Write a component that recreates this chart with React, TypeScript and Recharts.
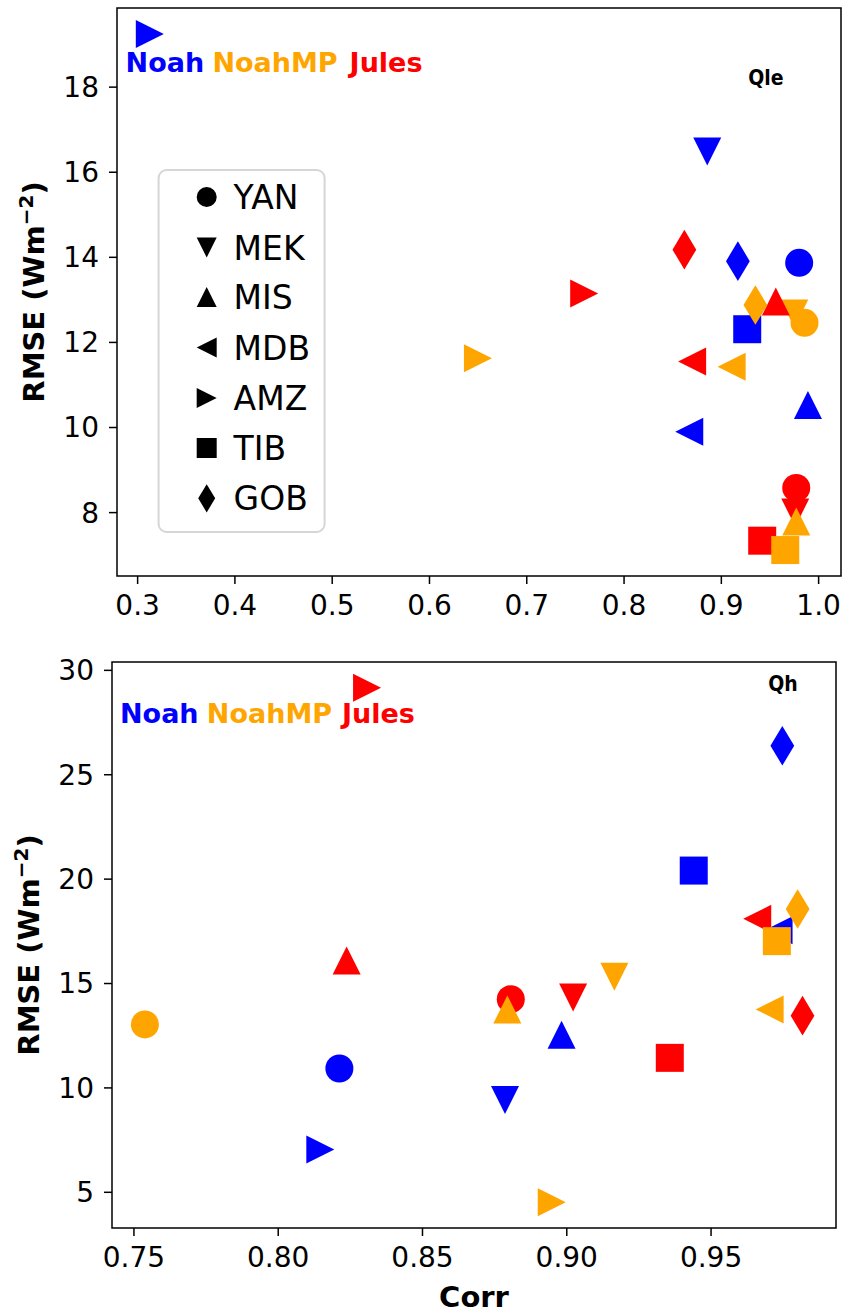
import React from 'react';
import { ScatterChart, Scatter, XAxis, YAxis, ReferenceArea } from 'recharts';

// ---------- data ----------
const stations = ['YAN', 'MEK', 'MIS', 'MDB', 'AMZ', 'TIB', 'GOB'];
const models = ['Noah', 'NoahMP', 'Jules'];
const modelColors = ['#0000ff', '#ffa500', '#ff0000'];
const drawOrder = ['Noah', 'Jules', 'NoahMP'];

// Qle panel
const qleNoahCorr = [0.980, 0.8855, 0.989, 0.867, 0.3125, 0.9266, 0.917];
const qleNoahRmse = [13.87, 16.49, 10.53, 9.90, 19.25, 12.31, 13.91];
const qleNoahMPCorr = [0.9855, 0.975, 0.977, 0.9106, 0.6498, 0.9657, 0.935];
const qleNoahMPRmse = [12.46, 12.68, 7.79, 11.43, 11.63, 7.12, 12.88];
const qleJulesCorr = [0.977, 0.976, 0.956, 0.870, 0.759, 0.942, 0.862];
const qleJulesRmse = [8.58, 8.0, 12.96, 11.55, 13.15, 7.34, 14.18];

// Qh panel
const qhNoahCorr = [0.8212, 0.8786, 0.8982, 0.9734, 0.8146, 0.944, 0.9747];
const qhNoahRmse = [10.93, 9.42, 12.55, 17.55, 7.05, 20.41, 26.39];
const qhNoahMPCorr = [0.7538, 0.9165, 0.8794, 0.9703, 0.8948, 0.9728, 0.980];
const qhNoahMPRmse = [13.04, 15.33, 13.76, 13.76, 4.52, 17.03, 18.57];
const qhJulesCorr = [0.8806, 0.9022, 0.8237, 0.966, 0.8308, 0.9357, 0.9817];
const qhJulesRmse = [14.25, 14.33, 16.10, 18.10, 29.17, 11.44, 13.46];

// axes
const qleXDomain = [0.2788, 1.023];
const qleYDomain = [6.51, 19.86];
const qleXTicks = [0.3, 0.4, 0.5, 0.6, 0.7, 0.8, 0.9, 1.0];
const qleYTicks = [8, 10, 12, 14, 16, 18];
const qhXDomain = [0.7424, 0.9933];
const qhYDomain = [3.29, 30.40];
const qhXTicks = [0.75, 0.8, 0.85, 0.9, 0.95];
const qhYTicks = [5, 10, 15, 20, 25, 30];

// ---------- helpers ----------
type Pt = { station: string; model: string; corr: number; rmse: number };

function build(corr: Record<string, number[]>, rmse: Record<string, number[]>): Pt[] {
  const out: Pt[] = [];
  stations.forEach((s, i) => {
    drawOrder.forEach((m) => {
      out.push({ station: s, model: m, corr: corr[m][i], rmse: rmse[m][i] });
    });
  });
  return out;
}

const qleData = build(
  { Noah: qleNoahCorr, NoahMP: qleNoahMPCorr, Jules: qleJulesCorr },
  { Noah: qleNoahRmse, NoahMP: qleNoahMPRmse, Jules: qleJulesRmse }
);
const qhData = build(
  { Noah: qhNoahCorr, NoahMP: qhNoahMPCorr, Jules: qhJulesCorr },
  { Noah: qhNoahRmse, NoahMP: qhNoahMPRmse, Jules: qhJulesRmse }
);

const colorOf = (m: string) => modelColors[models.indexOf(m)];

function markerPath(station: string, m: number): string {
  const h = m / 2;
  switch (station) {
    case 'MEK':
      return `M0,${h} L${-h},${-h} L${h},${-h} Z`;
    case 'MIS':
      return `M0,${-h} L${-h},${h} L${h},${h} Z`;
    case 'MDB':
      return `M${-h},0 L${h},${-h} L${h},${h} Z`;
    case 'AMZ':
      return `M${h},0 L${-h},${-h} L${-h},${h} Z`;
    case 'TIB':
      return `M${-h},${-h} H${h} V${h} H${-h} Z`;
    case 'GOB': {
      const dy = m * 0.7071;
      const dx = m * 0.4243;
      return `M0,${-dy} L${dx},0 L0,${dy} L${-dx},0 Z`;
    }
    default:
      return '';
  }
}

function Marker({ station, cx, cy, size, color }: { station: string; cx: number; cy: number; size: number; color: string }) {
  if (station === 'YAN') {
    return <circle cx={cx} cy={cy} r={size / 2} fill={color} />;
  }
  return <path d={markerPath(station, size)} transform={`translate(${cx},${cy})`} fill={color} />;
}

const renderShape = (props: any) => {
  const p = props.payload ?? props;
  if (props.cx == null || props.cy == null) return <g />;
  return <Marker station={p.station} cx={props.cx} cy={props.cy} size={28} color={colorOf(p.model)} />;
};

const FONT = 'DejaVu Sans';
const tickStyle = { fontSize: 28, fill: '#000', fontFamily: FONT };
const tickLine = { stroke: '#000', strokeWidth: 1.5 };

function Panel({
  data, xDomain, yDomain, xTicks, yTicks, xDigits, width, height, margin, yAxisWidth, xAxisHeight,
}: any) {
  return (
    <ScatterChart width={width} height={height} margin={margin}>
      <XAxis
        type="number"
        dataKey="corr"
        domain={xDomain}
        ticks={xTicks}
        interval={0}
        allowDataOverflow
        height={xAxisHeight}
        axisLine={false}
        tickLine={tickLine}
        tickSize={8}
        tickMargin={11}
        tick={tickStyle}
        tickFormatter={(v: number) => v.toFixed(xDigits)}
      />
      <YAxis
        type="number"
        dataKey="rmse"
        domain={yDomain}
        ticks={yTicks}
        interval={0}
        allowDataOverflow
        width={yAxisWidth}
        axisLine={false}
        tickLine={tickLine}
        tickSize={8}
        tickMargin={10}
        tick={tickStyle}
      />
      <ReferenceArea
        x1={xDomain[0]}
        x2={xDomain[1]}
        y1={yDomain[0]}
        y2={yDomain[1]}
        fill="none"
        fillOpacity={0}
        stroke="#000"
        strokeWidth={1.5}
        ifOverflow="visible"
      />
      <Scatter data={data} shape={renderShape} isAnimationActive={false} />
    </ScatterChart>
  );
}

const legendRowY = [197, 247.5, 297, 347.5, 398, 448, 498.3];

export default function App() {
  return (
    <div style={{ position: 'absolute', left: 0, top: 0, width: 846, height: 1316, background: '#fff', fontFamily: FONT }}>
      <div style={{ position: 'absolute', left: 0, top: 0 }}>
        <Panel
          data={qleData}
          xDomain={qleXDomain}
          yDomain={qleYDomain}
          xTicks={qleXTicks}
          yTicks={qleYTicks}
          xDigits={1}
          width={846}
          height={640}
          margin={{ top: 8, right: 5, bottom: 0, left: 0 }}
          yAxisWidth={117}
          xAxisHeight={64}
        />
      </div>
      <div style={{ position: 'absolute', left: 0, top: 640 }}>
        <Panel
          data={qhData}
          xDomain={qhXDomain}
          yDomain={qhYDomain}
          xTicks={qhXTicks}
          yTicks={qhYTicks}
          xDigits={2}
          width={846}
          height={676}
          margin={{ top: 22, right: 10, bottom: 0, left: 0 }}
          yAxisWidth={112}
          xAxisHeight={88}
        />
      </div>
      <svg
        width={846}
        height={1316}
        style={{ position: 'absolute', left: 0, top: 0, pointerEvents: 'none' }}
        fontFamily={FONT}
      >
        {/* Qle panel annotations */}
        <text y={71.7} fontSize={27} fontWeight="bold">
          <tspan x={125.6} fill={modelColors[0]}>{models[0]}</tspan>
          <tspan x={212.4} fill={modelColors[1]}>{models[1]}</tspan>
          <tspan x={349.6} fill={modelColors[2]}>{models[2]}</tspan>
        </text>
        <text x={766} y={85} fontSize={21} fontWeight="bold" textAnchor="middle" fontFamily="'DejaVu Sans Condensed', 'DejaVu Sans'">Qle</text>

        {/* legend */}
        <rect x={158.6} y={170} width={166} height={362} rx={8} ry={8} fill="#fff" fillOpacity={0.8} stroke="#d6d6d6" strokeWidth={2} />
        {stations.map((s, i) => (
          <g key={s}>
            <Marker station={s} cx={206.7} cy={legendRowY[i]} size={20} color="#000" />
            <text x={233.6} y={legendRowY[i] + 12} fontSize={33} fill="#000">{s}</text>
          </g>
        ))}

        <text transform="translate(43.5,292) rotate(-90)" textAnchor="middle" fontSize={29} fontWeight="bold">
          RMSE (Wm<tspan dy={-11} fontSize={20}>−2</tspan><tspan dy={11}>)</tspan>
        </text>

        {/* Qh panel annotations */}
        <text y={723.3} fontSize={27} fontWeight="bold">
          <tspan x={120} fill={modelColors[0]}>{models[0]}</tspan>
          <tspan x={206.8} fill={modelColors[1]}>{models[1]}</tspan>
          <tspan x={342} fill={modelColors[2]}>{models[2]}</tspan>
        </text>
        <text x={783} y={690.7} fontSize={21} fontWeight="bold" textAnchor="middle" fontFamily="'DejaVu Sans Condensed', 'DejaVu Sans'">Qh</text>

        <text transform="translate(38.5,945) rotate(-90)" textAnchor="middle" fontSize={29} fontWeight="bold">
          RMSE (Wm<tspan dy={-11} fontSize={20}>−2</tspan><tspan dy={11}>)</tspan>
        </text>
        <text x={474} y={1306.7} textAnchor="middle" fontSize={29} fontWeight="bold">Corr</text>
      </svg>
    </div>
  );
}
